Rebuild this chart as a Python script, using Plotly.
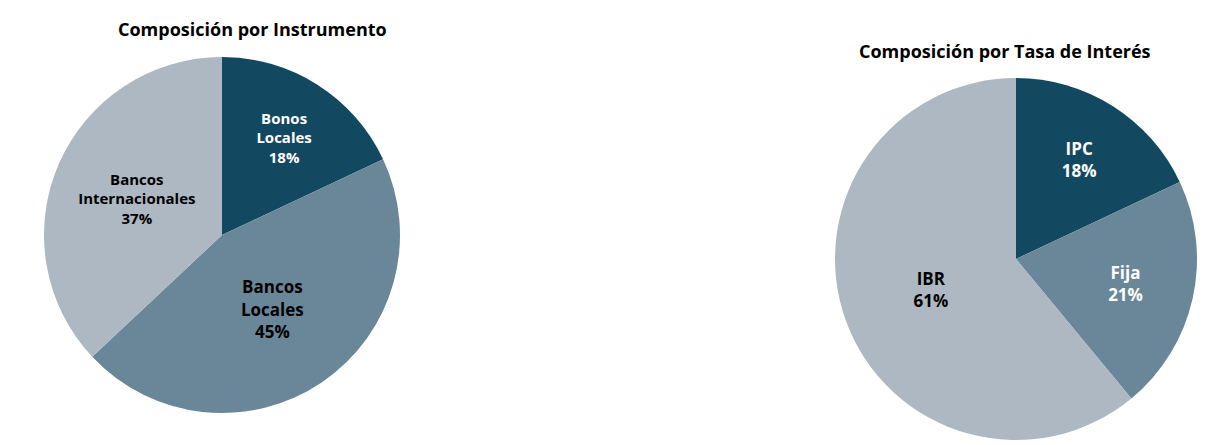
import plotly.graph_objects as go

# composicion por instrumento
inst_labels = ["Bonos<br>Locales", "Bancos<br>Locales", "Bancos<br>Internacionales"]
inst_values = [18, 45, 37]

# composicion por tasa de interes
tasa_labels = ["IPC", "Fija", "IBR"]
tasa_values = [18, 21, 61]

colors = ["#134960", "#6a8799", "#aeb8c3"]
FONT = "Open Sans"
W, H = 1210, 445
OFF = 8  # page body margin


def px_x(v):
    return (v - OFF) / W


def px_y(v):
    return 1 - (v - OFF) / H


fig = go.Figure()

fig.add_trace(go.Pie(
    labels=inst_labels, values=inst_values, sort=False, direction="clockwise",
    marker=dict(colors=colors, line=dict(width=0)),
    texttemplate="<b>%{label}<br>%{percent:.0%}</b>", textposition="inside",
    insidetextorientation="horizontal",
    textfont=dict(family=FONT, size=[15, 17, 15], color=["white", "black", "black"]),
    domain=dict(x=[px_x(44), px_x(400)], y=[px_y(413), px_y(57)]),
    showlegend=False, hoverinfo="label+percent",
))

fig.add_trace(go.Pie(
    labels=tasa_labels, values=tasa_values, sort=False, direction="clockwise",
    marker=dict(colors=colors, line=dict(width=0)),
    texttemplate="<b>%{label}<br>%{percent:.0%}</b>", textposition="inside",
    insidetextorientation="horizontal",
    textfont=dict(family=FONT, size=17, color=["white", "white", "black"]),
    domain=dict(x=[px_x(835), px_x(1197)], y=[px_y(440), px_y(78)]),
    showlegend=False, hoverinfo="label+percent",
))

fig.add_annotation(text="<b>Composición por Instrumento</b>", x=px_x(252), y=px_y(29),
                   xref="paper", yref="paper", showarrow=False,
                   xanchor="center", yanchor="middle",
                   font=dict(family=FONT, size=18, color="black"))
fig.add_annotation(text="<b>Composición por Tasa de Interés</b>", x=px_x(1005), y=px_y(51),
                   xref="paper", yref="paper", showarrow=False,
                   xanchor="center", yanchor="middle",
                   font=dict(family=FONT, size=18, color="black"))

fig.update_layout(width=W, height=H, margin=dict(l=0, r=0, t=0, b=0),
                  paper_bgcolor="white", plot_bgcolor="white")

fig.write_html("out.html")
